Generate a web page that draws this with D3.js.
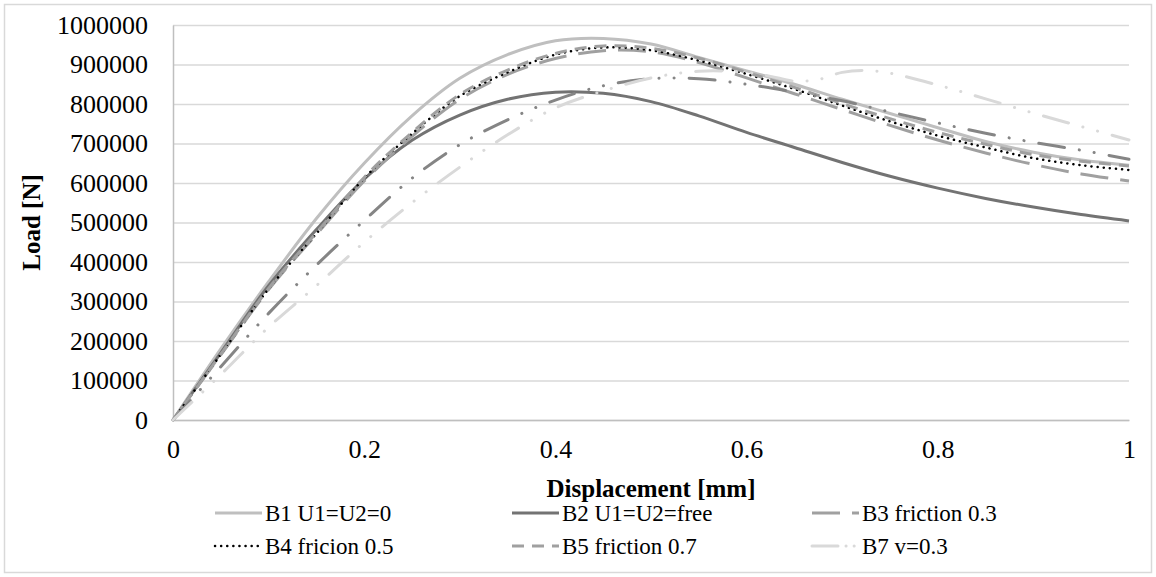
<!DOCTYPE html>
<html>
<head>
<meta charset="utf-8">
<script src="https://cdn.jsdelivr.net/npm/d3@7"></script>
<style>
  body { margin: 0; background: #fff; }
</style>
</head>
<body>
<div id="chart"></div>
<script>
// displacement grid [mm]
var disp = [0, 0.05, 0.1, 0.15, 0.2, 0.25, 0.3, 0.35, 0.4, 0.45, 0.5,
            0.55, 0.6, 0.65, 0.7, 0.75, 0.8, 0.85, 0.9, 0.95, 1.0];
var dispB7 = [0, 0.05, 0.1, 0.15, 0.2, 0.25, 0.3, 0.35, 0.4, 0.45, 0.5,
              0.55, 0.6, 0.625, 0.65, 0.675, 0.7, 0.725, 0.75, 0.8, 0.85, 0.9, 0.95, 1.0];

// load values [N]
var loadB1 = [0, 180000, 350000, 510000, 650000, 770000, 865000, 925000, 960000, 966000, 952000,
              918000, 884000, 850000, 812000, 776000, 740000, 705000, 678000, 658000, 645000];
var loadB2 = [0, 170000, 340000, 482000, 610000, 708000, 772000, 812000, 830000, 827000, 806000,
              770000, 728000, 690000, 652000, 617000, 587000, 561000, 539000, 520000, 504000];
var loadB3 = [0, 165000, 330000, 470000, 605000, 718000, 812000, 875000, 915000, 935000, 932000,
              905000, 866000, 826000, 786000, 746000, 709000, 676000, 647000, 623000, 605000];
var loadB4 = [0, 166000, 332000, 472000, 612000, 725000, 820000, 880000, 925000, 943000, 936000,
              910000, 876000, 838000, 796000, 756000, 720000, 690000, 663000, 645000, 633000];
var loadB5 = [0, 166000, 333000, 474000, 614000, 728000, 824000, 886000, 928000, 947000, 941000,
              916000, 880000, 842000, 801000, 763000, 728000, 698000, 672000, 655000, 643000];
var loadB6 = [0, 135000, 270000, 392000, 505000, 612000, 697000, 760000, 810000, 846000, 864000,
              864000, 850000, 830000, 808000, 780000, 752000, 726000, 703000, 683000, 660000];
var loadB7 = [0, 115000, 235000, 340000, 450000, 550000, 640000, 722000, 790000, 833000, 866000,
              883000, 880000, 870000, 858000, 862000, 880000, 885000, 878000, 848000, 813000, 777000, 743000, 709000];

var seriesNames = ["B1 U1=U2=0", "B2 U1=U2=free", "B3 friction 0.3",
                   "B4 fricion 0.5", "B5 friction 0.7", "B6", "B7 v=0.3"];

var yTicks = [0, 100000, 200000, 300000, 400000, 500000, 600000, 700000, 800000, 900000, 1000000];
var xTicks = [0, 0.2, 0.4, 0.6, 0.8, 1];

var series = [
  { name: seriesNames[0], x: disp, y: loadB1, color: "#bfbfbf", width: 3, dash: null, cap: "butt", legend: true },
  { name: seriesNames[1], x: disp, y: loadB2, color: "#737373", width: 3, dash: null, cap: "butt", legend: true },
  { name: seriesNames[2], x: disp, y: loadB3, color: "#a0a0a0", width: 3, dash: "28 12", cap: "butt", legend: true },
  { name: seriesNames[3], x: disp, y: loadB4, color: "#000000", width: 2.5, dash: "0.1 6", cap: "round", legend: true },
  { name: seriesNames[4], x: disp, y: loadB5, color: "#a0a0a0", width: 3, dash: "12 8", cap: "butt", legend: true },
  { name: seriesNames[5], x: disp, y: loadB6, color: "#858585", width: 3, dash: "26 15 0.1 15 0.1 15", cap: "round", legend: false },
  { name: seriesNames[6], x: dispB7, y: loadB7, color: "#d9d9d9", width: 3, dash: "26 15 0.1 15 0.1 15", cap: "round", legend: true }
];

var serif = "'Liberation Serif', 'Times New Roman', serif";

var svgWidth = 1156;
var svgHeight = 577;
var margin = { top: 25, right: 27, bottom: 157, left: 173 };
var width = svgWidth - margin.left - margin.right;
var height = svgHeight - margin.top - margin.bottom;

var svg = d3.select("#chart")
  .append("svg")
  .attr("width", svgWidth)
  .attr("height", svgHeight);

// outer chart border
svg.append("rect")
  .attr("x", 4.5).attr("y", 4.5)
  .attr("width", svgWidth - 9).attr("height", svgHeight - 9)
  .attr("fill", "#fff")
  .attr("stroke", "#d9d9d9")
  .attr("stroke-width", 1.5);

var chartGroup = svg.append("g")
  .attr("transform", `translate(${margin.left}, ${margin.top})`);

var xScale = d3.scaleLinear().domain([0, 1]).range([0, width]);
var yScale = d3.scaleLinear().domain([0, 1000000]).range([height, 0]);

// gridlines
chartGroup.append("g")
  .call(d3.axisLeft(yScale).tickValues(yTicks).tickSize(-width).tickFormat(""))
  .call(g => g.select(".domain").remove())
  .call(g => g.selectAll("line").attr("stroke", "#d9d9d9").attr("stroke-width", 1.5));

// y axis
chartGroup.append("g")
  .call(d3.axisLeft(yScale).tickValues(yTicks).tickSize(0).tickPadding(25).tickFormat(d3.format("d")))
  .call(g => g.select(".domain").attr("stroke", "#bfbfbf").attr("stroke-width", 1.5))
  .call(g => g.selectAll("text").style("font-family", serif).style("font-size", "26px").attr("fill", "#000"));

// x axis
chartGroup.append("g")
  .attr("transform", `translate(0, ${height})`)
  .call(d3.axisBottom(xScale).tickValues(xTicks).tickSize(0).tickPadding(20).tickFormat(d3.format("")))
  .call(g => g.select(".domain").attr("stroke", "#bfbfbf").attr("stroke-width", 1.5))
  .call(g => g.selectAll("text").style("font-family", serif).style("font-size", "26px").attr("fill", "#000"));

// curves
var line = d3.line()
  .x(d => xScale(d[0]))
  .y(d => yScale(d[1]))
  .curve(d3.curveCatmullRom.alpha(0.5));

series.forEach(function(s) {
  var pts = s.x.map((v, i) => [v, s.y[i]]);
  chartGroup.append("path")
    .datum(pts)
    .attr("fill", "none")
    .attr("stroke", s.color)
    .attr("stroke-width", s.width)
    .attr("stroke-linecap", s.cap)
    .attr("stroke-dasharray", s.dash)
    .attr("d", line);
});

// axis titles
svg.append("text")
  .attr("x", margin.left + width / 2)
  .attr("y", 497)
  .attr("text-anchor", "middle")
  .style("font-family", serif)
  .style("font-size", "25px")
  .style("font-weight", "bold")
  .text("Displacement [mm]");

svg.append("text")
  .attr("transform", `translate(40, ${margin.top + height / 2}) rotate(-90)`)
  .attr("text-anchor", "middle")
  .style("font-family", serif)
  .style("font-size", "25px")
  .style("font-weight", "bold")
  .text("Load [N]");

// legend
var legendSeries = series.filter(s => s.legend);
var colX = [215, 512, 812];
var rowY = [513, 546];
var legend = svg.append("g");
legendSeries.forEach(function(s, i) {
  var cx = colX[i % 3];
  var cy = rowY[Math.floor(i / 3)];
  legend.append("line")
    .attr("x1", cx).attr("x2", cx + 47)
    .attr("y1", cy).attr("y2", cy)
    .attr("stroke", s.color)
    .attr("stroke-width", s.width)
    .attr("stroke-linecap", s.cap)
    .attr("stroke-dasharray", s.name === "B7 v=0.3" ? "26 8 0.1 8 0.1 8" : s.dash);
  legend.append("text")
    .attr("x", cx + 50)
    .attr("y", cy)
    .attr("dy", "0.35em")
    .style("font-family", serif)
    .style("font-size", "23px")
    .text(s.name);
});
</script>
</body>
</html>
